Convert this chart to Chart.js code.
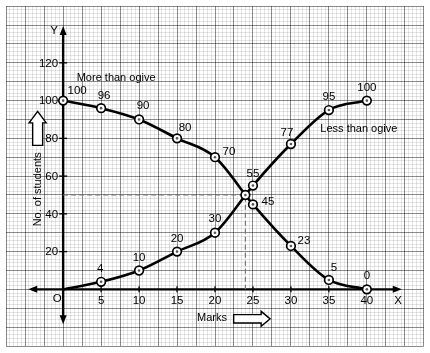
<!DOCTYPE html>
<html><head><meta charset="utf-8">
<script src="https://cdn.jsdelivr.net/npm/chart.js@4.4.1/dist/chart.umd.min.js"></script>
<style>html,body{margin:0;padding:0;background:#fff;}#wrap{width:430px;height:353px;}</style>
</head><body><div id="wrap"><canvas id="c" width="430" height="353"></canvas></div>
<script>
// ---- data ----
const marks = [0, 5, 10, 15, 20, 25, 30, 35, 40];
const lessThan = [0, 4, 10, 20, 30, 55, 77, 95, 100];
const moreThan = [100, 96, 90, 80, 70, 45, 23, 5, 0];
const xTickLabels = [5, 10, 15, 20, 25, 30, 35, 40];
const yTickLabels = [20, 40, 60, 80, 100, 120];
const medianX = 24;
const medianY = 50;

// ---- label placement (px offsets from each point) ----
const lessOffsets = [null, [-1,-13], [0,-13], [0,-13], [0,-14], [0,-12], [-4,-11], [0,-13], [0,-13]];
const moreOffsets = [[14,-10], [3,-12], [4,-14], [8,-11], [14,-5], [15,-3], [13,-5], [5,-12], [0,-14]];

const FONT = "'Liberation Sans', Arial, Helvetica, sans-serif";
const pts = (ys) => marks.map((m, i) => ({x: m, y: ys[i]}));

const axesPlugin = {
  id: 'axesPlugin',
  beforeDatasetsDraw(chart) {
    const ctx = chart.ctx, xs = chart.scales.x, ys = chart.scales.y;
    const X = v => xs.getPixelForValue(v), Y = v => ys.getPixelForValue(v);
    const x0 = X(0), y0 = Y(0);
    ctx.save();
    ctx.strokeStyle = '#000'; ctx.fillStyle = '#000'; ctx.lineWidth = 2.4;
    // x axis
    const xl = X(-4.6), xr = X(44.6);
    ctx.beginPath(); ctx.moveTo(xl + 6, y0); ctx.lineTo(xr - 6, y0); ctx.stroke();
    ctx.beginPath(); ctx.moveTo(xr, y0); ctx.lineTo(xr - 9, y0 - 3.5); ctx.lineTo(xr - 9, y0 + 3.5); ctx.closePath(); ctx.fill();
    ctx.beginPath(); ctx.moveTo(xl, y0); ctx.lineTo(xl + 9, y0 - 3.5); ctx.lineTo(xl + 9, y0 + 3.5); ctx.closePath(); ctx.fill();
    // y axis
    const yt = Y(139.5), yb = Y(-18.5);
    ctx.beginPath(); ctx.moveTo(x0, yt + 6); ctx.lineTo(x0, yb - 6); ctx.stroke();
    ctx.beginPath(); ctx.moveTo(x0, yt); ctx.lineTo(x0 - 3.5, yt + 9); ctx.lineTo(x0 + 3.5, yt + 9); ctx.closePath(); ctx.fill();
    ctx.beginPath(); ctx.moveTo(x0, yb); ctx.lineTo(x0 - 3.5, yb - 9); ctx.lineTo(x0 + 3.5, yb - 9); ctx.closePath(); ctx.fill();
    // ticks
    ctx.lineWidth = 1.3;
    yTickLabels.forEach(v => { ctx.beginPath(); ctx.moveTo(x0 - 4, Y(v)); ctx.lineTo(x0 + 4, Y(v)); ctx.stroke(); });
    xTickLabels.forEach(v => { ctx.beginPath(); ctx.moveTo(X(v), y0 - 3); ctx.lineTo(X(v), y0 + 3); ctx.stroke(); });
    // tick labels
    ctx.font = '11.5px ' + FONT; ctx.fillStyle = '#000';
    ctx.textAlign = 'right'; ctx.textBaseline = 'middle';
    yTickLabels.forEach(v => ctx.fillText(String(v), x0 - 5, Y(v) + 0.5));
    ctx.textAlign = 'center';
    xTickLabels.forEach(v => ctx.fillText(String(v), X(v), y0 + 11.5));
    ctx.fillText('O', x0 - 6, y0 + 9.5);
    ctx.fillText('X', X(44.1), y0 + 11);
    ctx.fillText('Y', x0 - 9, yt + 5);
    ctx.restore();
  },
  afterDatasetsDraw(chart) {
    const ctx = chart.ctx, xs = chart.scales.x, ys = chart.scales.y;
    const X = v => xs.getPixelForValue(v), Y = v => ys.getPixelForValue(v);
    ctx.save();
    // centre dots of markers
    chart.data.datasets.forEach((ds, i) => {
      const meta = chart.getDatasetMeta(i);
      meta.data.forEach(el => {
        if (el.options && el.options.radius > 1) {
          ctx.beginPath(); ctx.fillStyle = '#555'; ctx.arc(el.x, el.y, 1.3, 0, Math.PI * 2); ctx.fill();
        }
      });
    });
    // point value labels
    ctx.font = '11.5px ' + FONT; ctx.fillStyle = '#000';
    ctx.textAlign = 'center'; ctx.textBaseline = 'middle';
    marks.forEach((m, i) => {
      const o = lessOffsets[i];
      if (o) ctx.fillText(String(lessThan[i]), X(m) + o[0], Y(lessThan[i]) + o[1]);
      const p = moreOffsets[i];
      if (p) ctx.fillText(String(moreThan[i]), X(m) + p[0], Y(moreThan[i]) + p[1]);
    });
    // annotations
    ctx.font = '11px ' + FONT;
    ctx.fillText('More than ogive', X(0) + 53, Y(100) - 23);
    ctx.fillText('Less than ogive', X(35) + 30, Y(100) + 28);
    ctx.fillText('Marks', X(19.6), Y(0) + 29);
    ctx.save();
    ctx.translate(X(0) - 25, Y(0) - 100);
    ctx.rotate(-Math.PI / 2);
    ctx.fillText('No. of students', 0, 0);
    ctx.restore();
    // hollow arrows
    ctx.lineWidth = 1.4; ctx.strokeStyle = '#000'; ctx.fillStyle = '#fff';
    const ax = X(0) - 25.5, ay = Y(0);
    ctx.beginPath();
    ctx.moveTo(ax, ay - 178);
    ctx.lineTo(ax + 8.5, ay - 166.5);
    ctx.lineTo(ax + 5, ay - 166.5);
    ctx.lineTo(ax + 5, ay - 144);
    ctx.lineTo(ax - 5, ay - 144);
    ctx.lineTo(ax - 5, ay - 166.5);
    ctx.lineTo(ax - 8.5, ay - 166.5);
    ctx.closePath(); ctx.fill(); ctx.stroke();
    const bx = X(0), by = Y(0) + 29.5;
    ctx.beginPath();
    ctx.moveTo(bx + 207, by);
    ctx.lineTo(bx + 198, by - 7.5);
    ctx.lineTo(bx + 198, by - 4.2);
    ctx.lineTo(bx + 170.5, by - 4.2);
    ctx.lineTo(bx + 170.5, by + 4.2);
    ctx.lineTo(bx + 198, by + 4.2);
    ctx.lineTo(bx + 198, by + 7.5);
    ctx.closePath(); ctx.fill(); ctx.stroke();
    ctx.restore();
  }
};

const markerStyle = {
  pointBackgroundColor: '#fff', pointBorderColor: '#000', pointBorderWidth: 1.7,
  pointHoverRadius: 4.5
};

new Chart(document.getElementById('c'), {
  type: 'line',
  data: {
    datasets: [
      {
        label: 'median', data: [{x: medianX, y: medianY}], showLine: false,
        pointRadius: 4.3, ...markerStyle, order: 1
      },
      {
        label: 'Less than ogive', data: pts(lessThan),
        borderColor: '#000', borderWidth: 2.6, cubicInterpolationMode: 'monotone',
        pointRadius: marks.map((m, i) => i === 0 ? 0 : 4.3), ...markerStyle, order: 2
      },
      {
        label: 'More than ogive', data: pts(moreThan),
        borderColor: '#000', borderWidth: 2.6, cubicInterpolationMode: 'monotone',
        pointRadius: 4.3, ...markerStyle, order: 3
      },
      {
        label: 'guide', data: [{x: 0, y: medianY}, {x: medianX, y: medianY}, {x: medianX, y: 0}],
        borderColor: '#777', borderWidth: 1.2, borderDash: [5, 3], pointRadius: 0, tension: 0, order: 4
      }
    ]
  },
  options: {
    responsive: false, animation: false, devicePixelRatio: 1,
    layout: {padding: {left: 6, right: 6, top: 4, bottom: 7}},
    plugins: {legend: {display: false}, tooltip: {enabled: false}},
    scales: {
      x: {
        type: 'linear', min: -7.5, max: 47.5,
        ticks: {display: false, stepSize: 0.5, autoSkip: false},
        border: {display: false},
        grid: {
          drawTicks: false,
          color: c => (Math.abs(c.tick.value / 2.5 - Math.round(c.tick.value / 2.5)) < 1e-6) ? 'rgba(0,0,0,0.45)' : 'rgba(0,0,0,0.10)',
          lineWidth: 1
        }
      },
      y: {
        type: 'linear', min: -30, max: 150,
        ticks: {display: false, stepSize: 2, autoSkip: false},
        border: {display: false},
        grid: {
          drawTicks: false,
          color: c => (Math.abs(c.tick.value / 10 - Math.round(c.tick.value / 10)) < 1e-6) ? 'rgba(0,0,0,0.45)' : 'rgba(0,0,0,0.10)',
          lineWidth: 1
        }
      }
    }
  },
  plugins: [axesPlugin]
});
</script>
</body></html>
